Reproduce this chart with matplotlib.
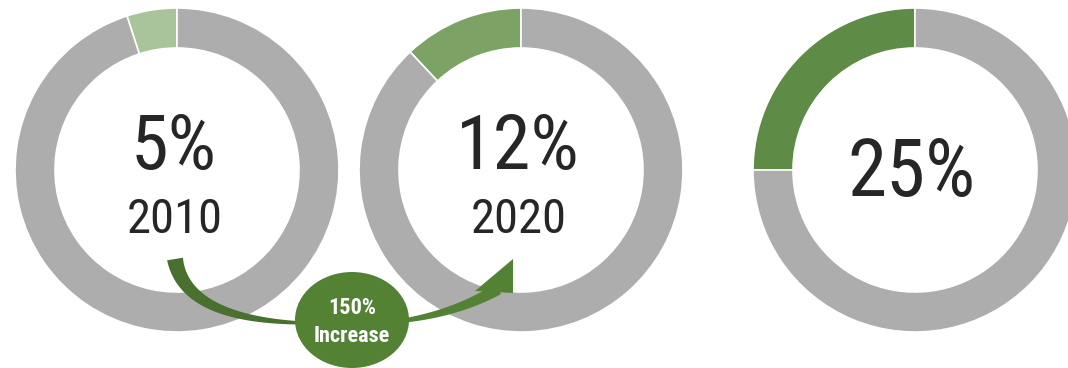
import numpy as np
import matplotlib.pyplot as plt
from matplotlib.patches import Ellipse, Polygon

# data
shares = [5, 12, 25]
years = ['2010', '2020', '']
labels = ['5%', '12%', '25%']
green_cols = ['#a9c39b', '#7da265', '#5e8b45']
gray = '#adadad'
increase_text = '150%\nIncrease'

W, H = 1068, 368
centers = [(177, 170), (521, 170), (915, 170)]  # pixel positions (y from top)
R_OUT, RING = 162, 40

plt.rcParams['font.family'] = ['Roboto Condensed', 'Liberation Sans', 'DejaVu Sans']

fig = plt.figure(figsize=(W / 100, H / 100), dpi=100)
ax = fig.add_axes([0, 0, 1, 1])


def px(x, y):
    # image pixel coords -> data coords (y up)
    return x, H - y


for share, year, lab, col, (cx, cy) in zip(shares, years, labels, green_cols, centers):
    ax.pie([share, 100 - share], colors=[col, gray], startangle=90, counterclock=True,
           radius=R_OUT, center=px(cx, cy), frame=True,
           wedgeprops=dict(width=RING, edgecolor='white', linewidth=1.2))
    if year:
        ax.text(*px(cx - 3, cy - 22), lab, ha='center', va='center', fontsize=55,
                color='#262626')
        ax.text(*px(cx - 2, cy + 50), year, ha='center', va='center', fontsize=35,
                color='#262626')
    else:
        ax.text(*px(cx - 4, cy + 4), lab, ha='center', va='center', fontsize=57,
                color='#262626')


def tapered(p0, p1, p2, w0, w1, n=80):
    t = np.linspace(0, 1, n)[:, None]
    p0, p1, p2 = (np.array(px(*p)) for p in (p0, p1, p2))
    pts = (1 - t) ** 2 * p0 + 2 * (1 - t) * t * p1 + t ** 2 * p2
    d = 2 * (1 - t) * (p1 - p0) + 2 * t * (p2 - p1)
    d = d / np.linalg.norm(d, axis=1, keepdims=True)
    nrm = np.column_stack([-d[:, 1], d[:, 0]])
    w = (w0 + (w1 - w0) * t) / 2
    return np.vstack([pts + nrm * w, (pts - nrm * w)[::-1]])


# curved arrow
ax.add_patch(Polygon(tapered((175, 259), (185, 320), (305, 323), 16, 3), closed=True,
                     facecolor='#4a7030', edgecolor='none', zorder=3))
ax.add_patch(Polygon(tapered((400, 321), (455, 314), (498, 289), 4, 12), closed=True,
                     facecolor='#548235', edgecolor='none', zorder=3))
ax.add_patch(Polygon([px(475, 291), px(513, 259), px(513, 293)], closed=True,
                     facecolor='#548235', edgecolor='none', zorder=3))

ax.add_patch(Ellipse(px(352, 320), 114, 96, facecolor='#548235', edgecolor='none', zorder=4))
ax.text(*px(352, 322), increase_text, ha='center', va='center', fontsize=16,
        fontweight='bold', color='white', linespacing=1.3, zorder=5)

ax.set_xlim(0, W)
ax.set_ylim(0, H)
ax.set_aspect('equal')
ax.axis('off')

fig.savefig('out.png', dpi=100, facecolor='white')
